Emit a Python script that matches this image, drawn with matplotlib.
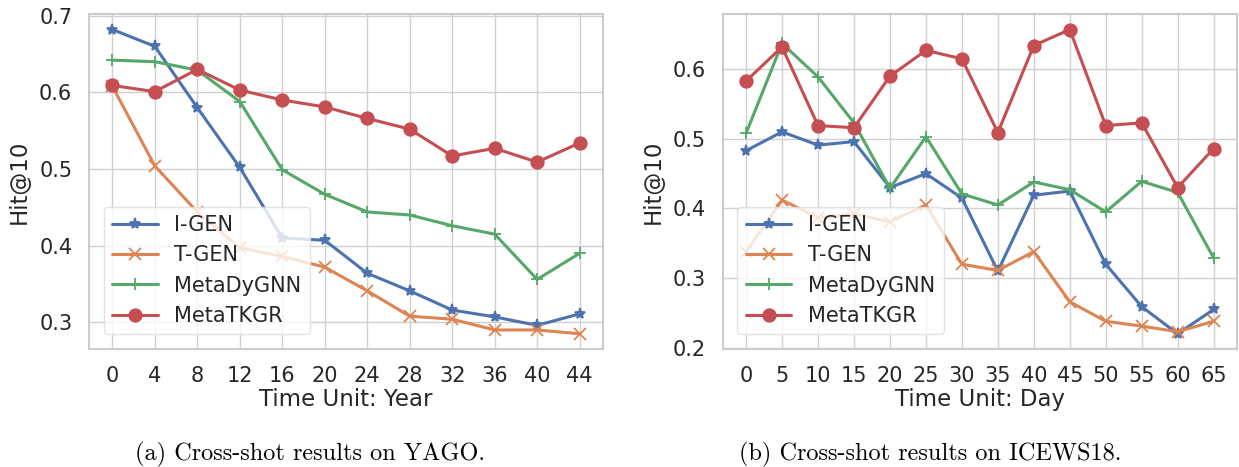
import numpy as np
import matplotlib
matplotlib.use('Agg')
import matplotlib.pyplot as plt
from matplotlib.ticker import MultipleLocator
import seaborn as sns

# (a) YAGO, time unit = year
years = [0, 4, 8, 12, 16, 20, 24, 28, 32, 36, 40, 44]
yago_igen = [0.682, 0.660, 0.580, 0.502, 0.410, 0.407, 0.364, 0.341, 0.316, 0.307, 0.296, 0.311]
yago_tgen = [0.608, 0.504, 0.444, 0.397, 0.386, 0.372, 0.341, 0.308, 0.304, 0.290, 0.290, 0.285]
yago_metadygnn = [0.642, 0.640, 0.629, 0.588, 0.499, 0.467, 0.444, 0.440, 0.426, 0.415, 0.356, 0.390]
yago_metatkgr = [0.609, 0.601, 0.630, 0.603, 0.590, 0.581, 0.566, 0.552, 0.517, 0.527, 0.509, 0.534]

# (b) ICEWS18, time unit = day
days = [0, 5, 10, 15, 20, 25, 30, 35, 40, 45, 50, 55, 60, 65]
icews_igen = [0.483, 0.510, 0.491, 0.496, 0.430, 0.450, 0.415, 0.310, 0.419, 0.425, 0.320, 0.259, 0.220, 0.255]
icews_tgen = [0.338, 0.412, 0.387, 0.392, 0.381, 0.405, 0.320, 0.311, 0.338, 0.266, 0.238, 0.231, 0.223, 0.238]
icews_metadygnn = [0.508, 0.637, 0.589, 0.523, 0.429, 0.503, 0.421, 0.405, 0.438, 0.427, 0.395, 0.439, 0.423, 0.329]
icews_metatkgr = [0.583, 0.632, 0.519, 0.516, 0.590, 0.627, 0.615, 0.509, 0.634, 0.657, 0.519, 0.523, 0.430, 0.486]

names = ['I-GEN', 'T-GEN', 'MetaDyGNN', 'MetaTKGR']
markers = ['*', 'x', '+', 'o']

sns.set_theme(style='whitegrid')
plt.rcParams['font.family'] = ['DejaVu Sans']
colors = sns.color_palette('deep')[:4]

fig = plt.figure(figsize=(12.39, 4.67), dpi=100)
W, H = 1239.0, 467.0
ax1 = fig.add_axes([89 / W, 1 - 349 / H, (603 - 89) / W, (349 - 14.3) / H])
ax2 = fig.add_axes([722.7 / W, 1 - 349 / H, (1237 - 722.7) / W, (349 - 14.3) / H])

panels = [
    (ax1, years, [yago_igen, yago_tgen, yago_metadygnn, yago_metatkgr], 'Time Unit: Year'),
    (ax2, days, [icews_igen, icews_tgen, icews_metadygnn, icews_metatkgr], 'Time Unit: Day'),
]

for ax, xs, series, xlab in panels:
    for ys, name, mk, c in zip(series, names, markers, colors):
        ms = 9 if mk == 'o' else 8
        ax.plot(xs, ys, marker=mk, color=c, label=name, linewidth=2.2,
                markersize=ms, markeredgewidth=1.3)
    ax.set_xticks(xs)
    ax.yaxis.set_major_locator(MultipleLocator(0.1))
    ax.tick_params(labelsize=15, colors='.15', pad=6)
    ax.set_xlabel(xlab, fontsize=16.5, color='.15', labelpad=2)
    ax.set_ylabel('Hit@10', fontsize=16.5, color='.15', labelpad=6)
    for sp in ax.spines.values():
        sp.set_color('#cccccc')
        sp.set_linewidth(1.5)
    ax.grid(color='#d0d0d0', linewidth=1.0)
    ax.legend(loc='lower left', fontsize=15, handlelength=2.2, borderaxespad=0.7,
              framealpha=0.8, edgecolor='#dddddd')

fig.text(310 / W, 1 - 460 / H, '(a) Cross-shot results on YAGO.', ha='center', va='baseline',
         fontsize=17.5, family='cmr10', color='black')
fig.text(930 / W, 1 - 460 / H, '(b) Cross-shot results on ICEWS18.', ha='center', va='baseline',
         fontsize=17.5, family='cmr10', color='black')

fig.savefig('out.png', dpi=100)
